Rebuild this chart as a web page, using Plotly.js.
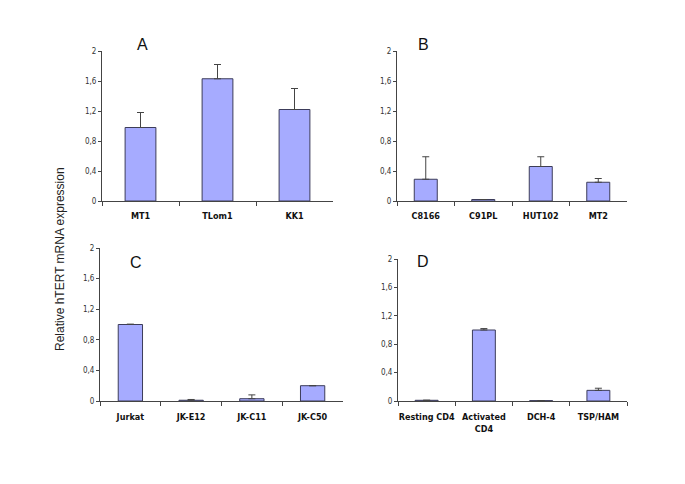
<!DOCTYPE html>
<html>
<head>
<meta charset="utf-8">
<script src="https://cdn.plot.ly/plotly-3.0.1.min.js"></script>
<style>html,body{margin:0;padding:0;background:#fff;}#chart{width:685px;height:484px;}</style>
</head>
<body>
<div id="chart"></div>
<script>
// Panel A
const catsA = ["MT1", "TLom1", "KK1"];
const valsA = [0.98, 1.63, 1.22];
const errA  = [0.20, 0.19, 0.28];
// Panel B
const catsB = ["C8166", "C91PL", "HUT102", "MT2"];
const valsB = [0.29, 0.02, 0.46, 0.25];
const errB  = [0.30, 0.0, 0.13, 0.05];
// Panel C
const catsC = ["Jurkat", "JK-E12", "JK-C11", "JK-C50"];
const valsC = [1.00, 0.01, 0.03, 0.20];
const errC  = [0.005, 0.01, 0.05, 0.0];
// Panel D
const catsD = ["Resting CD4", "Activated<br>CD4", "DCH-4", "TSP/HAM"];
const valsD = [0.01, 1.00, 0.005, 0.15];
const errD  = [0.0, 0.02, 0.0, 0.03];

const panelLetters = ["A", "B", "C", "D"];
const yTitle = "Relative hTERT mRNA expression";

const fill = "#a6abff";
const edge = "#3c3c5a";

function bar(cats, vals, errs, xa, ya) {
  return {
    type: "bar", x: cats, y: vals, xaxis: xa, yaxis: ya,
    marker: {color: fill, line: {color: edge, width: 1}},
    error_y: {type: "data", symmetric: false, array: errs, arrayminus: errs.map(() => 0),
              color: "#444", thickness: 1, width: 3.5},
    hoverinfo: "none", showlegend: false
  };
}

const data = [
  bar(catsA, valsA, errA, "x", "y"),
  bar(catsB, valsB, errB, "x2", "y2"),
  bar(catsC, valsC, errC, "x3", "y3"),
  bar(catsD, valsD, errD, "x4", "y4")
];

const tickFont = {family: "DejaVu Sans Condensed, DejaVu Sans, sans-serif", size: 8, color: "#333"};
const catFont = {family: "DejaVu Sans Condensed, DejaVu Sans, sans-serif", size: 9, color: "#111", weight: "bold"};

function xax(dom, anchor, standoff) {
  return {domain: dom, anchor: anchor, type: "category", showline: true, linecolor: "#444", linewidth: 1,
          ticks: "outside", ticklen: 4, tickcolor: "#444", tickson: "boundaries", showgrid: false,
          zeroline: false, tickfont: catFont, fixedrange: true, tickangle: 0, automargin: false,
          ticklabelstandoff: standoff};
}
function yax(dom, anchor) {
  return {domain: dom, anchor: anchor, range: [0, 2], dtick: 0.4, tick0: 0, showline: true, linecolor: "#444",
          linewidth: 1, ticks: "outside", ticklen: 3, tickcolor: "#444", showgrid: false, zeroline: false,
          tickfont: tickFont, fixedrange: true, automargin: false};
}

const W = 685, H = 484;
const dx = (a, b) => [a / W, b / W];
const dy = (top, bot) => [1 - bot / H, 1 - top / H];

const layout = {
  width: W, height: H, margin: {l: 0, r: 0, t: 0, b: 0},
  paper_bgcolor: "#fff", plot_bgcolor: "rgba(0,0,0,0)",
  separators: ",.", bargap: 0.6, showlegend: false,
  xaxis: xax(dx(102, 333), "y", 6), yaxis: yax(dy(51, 201), "x"),
  xaxis2: xax(dx(397, 627), "y2", 6), yaxis2: yax(dy(51, 201), "x2"),
  xaxis3: xax(dx(100, 343), "y3", 7), yaxis3: yax(dy(248, 401), "x3"),
  xaxis4: xax(dx(398, 627), "y4", 7), yaxis4: yax(dy(259, 401), "x4"),
  annotations: [
    {text: panelLetters[0], x: 142 / W, y: 1 - 45 / H},
    {text: panelLetters[1], x: 423 / W, y: 1 - 45 / H},
    {text: panelLetters[2], x: 136 / W, y: 1 - 262 / H},
    {text: panelLetters[3], x: 423 / W, y: 1 - 261 / H}
  ].map(a => Object.assign(a, {xref: "paper", yref: "paper", showarrow: false,
        xanchor: "center", yanchor: "middle",
        font: {family: "Liberation Sans, Arial, sans-serif", size: 16, color: "#111"}})).concat([
    {text: yTitle, x: 60 / W, y: 1 - 259 / H, xref: "paper", yref: "paper", showarrow: false,
     textangle: -90, xanchor: "center", yanchor: "middle",
     font: {family: "Liberation Sans, Arial, sans-serif", size: 12, color: "#222"}}
  ])
};

Plotly.newPlot("chart", data, layout, {staticPlot: true, displayModeBar: false});
</script>
</body>
</html>
